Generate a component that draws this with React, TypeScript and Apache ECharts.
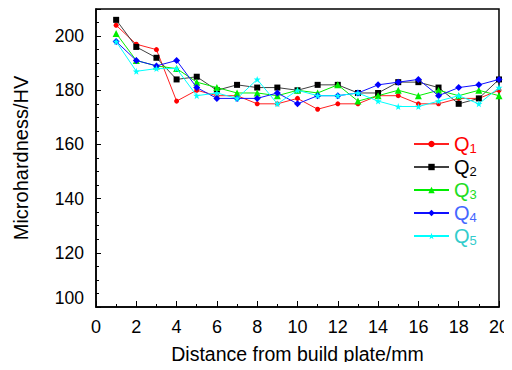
import React, { useEffect, useRef } from "react";
import * as echarts from "echarts";

const distance = [1, 2, 3, 4, 5, 6, 7, 8, 9, 10, 11, 12, 13, 14, 15, 16, 17, 18, 19, 20];
const q1 = [204, 197, 195, 176, 180, 178, 178, 175, 175, 177, 173, 175, 175, 178, 178, 175, 175, 177, 177, 180];
const q2 = [206, 196, 192, 184, 185, 180, 182, 181, 181, 180, 182, 182, 179, 179, 183, 183, 181, 175, 177, 184];
const q3 = [201, 191, 189, 188, 183, 181, 179, 179, 178, 180, 179, 182, 176, 178, 180, 178, 180, 178, 180, 178];
const q4 = [198, 191, 189, 191, 181, 177, 177, 177, 179, 175, 178, 178, 179, 182, 183, 184, 178, 181, 182, 184];
const q5 = [198, 187, 188, 188, 178, 179, 177, 184, 175, 180, 178, 178, 179, 176, 174, 174, 176, 178, 175, 181];

const seriesNames = ["Q1", "Q2", "Q3", "Q4", "Q5"];
const seriesData = [q1, q2, q3, q4, q5];
const lineColors = ["#ff2020", "#404040", "#00ee00", "#1010ff", "#00ffff"];
const markerColors = ["#ff0000", "#000000", "#00ee00", "#0000ff", "#00ffff"];
const labelColors = ["#ff0000", "#000000", "#22dd22", "#4466ff", "#33cccc"];
const STAR =
  "path://M0,-10L2.35,-3.24L9.51,-3.09L3.8,1.24L5.88,8.09L0,4L-5.88,8.09L-3.8,1.24L-9.51,-3.09L-2.35,-3.24Z";
const symbols = ["circle", "rect", "triangle", "diamond", STAR];
const symbolSizes = [5, 6, 7, 7, 7];

const FONT = "Liberation Sans, Arial, sans-serif";

export default function App() {
  const ref = useRef<HTMLDivElement>(null);
  useEffect(() => {
    if (!ref.current) return;
    const chart = echarts.init(ref.current, undefined, { renderer: "svg" });
    const rich: Record<string, any> = {};
    seriesNames.forEach((_, i) => {
      rich["q" + (i + 1)] = {
        color: labelColors[i],
        fontSize: 20,
        lineHeight: 22,
        fontFamily: FONT,
      };
      rich["s" + (i + 1)] = {
        color: labelColors[i],
        fontSize: 13,
        lineHeight: 10,
        verticalAlign: "bottom",
        fontFamily: FONT,
      };
    });
    chart.setOption({
      animation: false,
      backgroundColor: "#ffffff",
      grid: {
        left: 96,
        right: 13,
        top: 9,
        bottom: 63,
        show: true,
        borderColor: "#000",
        borderWidth: 1.5,
        backgroundColor: "transparent",
      },
      legend: {
        orient: "vertical",
        left: 408,
        top: 129,
        itemWidth: 35,
        itemHeight: 8,
        itemGap: 2,
        data: seriesNames,
        formatter: (name: string) => {
          const i = name.slice(1);
          return `{q${i}|Q}{s${i}|${i}}`;
        },
        textStyle: { rich },
      },
      xAxis: {
        type: "value",
        min: 0,
        max: 20,
        interval: 2,
        name: "Distance from build plate/mm",
        nameLocation: "middle",
        nameGap: 37,
        nameTextStyle: { fontSize: 19.5, color: "#000", fontFamily: FONT },
        axisLine: { show: true, lineStyle: { color: "#000", width: 1.5 } },
        axisTick: { show: true, inside: true, length: 6, lineStyle: { color: "#000" } },
        minorTick: { show: true, splitNumber: 2, length: 3, lineStyle: { color: "#000" } },
        splitLine: { show: false },
        axisLabel: { fontSize: 18, color: "#000", fontFamily: FONT, margin: 11 },
      },
      yAxis: {
        type: "value",
        min: 100,
        max: 210,
        interval: 20,
        name: "Microhardness/HV",
        nameLocation: "middle",
        nameGap: 65,
        nameTextStyle: { fontSize: 20, color: "#000", fontFamily: FONT },
        axisLine: { show: true, lineStyle: { color: "#000", width: 1.5 } },
        axisTick: { show: true, inside: true, length: 5, lineStyle: { color: "#000" } },
        minorTick: { show: true, splitNumber: 4, length: 3, lineStyle: { color: "#000" } },
        splitLine: { show: false },
        axisLabel: {
          fontSize: 17.5,
          color: "#000",
          fontFamily: FONT,
          margin: 12,
          formatter: (v: number) => (v > 200 ? "" : v === 100 ? "{low|100}" : String(v)),
          rich: { low: { fontSize: 17.5, fontFamily: FONT, color: "#000", padding: [0, 0, 18, 0] } },
        },
      },
      series: seriesNames.map((name, i) => ({
        name,
        type: "line",
        data: distance.map((d, j) => [d, seriesData[i][j]]),
        symbol: symbols[i],
        symbolSize: symbolSizes[i],
        showAllSymbol: true,
        lineStyle: { color: lineColors[i], width: 1 },
        itemStyle: { color: markerColors[i] },
        z: 2 + i,
      })),
    });
    return () => chart.dispose();
  }, []);
  return <div ref={ref} style={{ width: 512, height: 370, margin: -8 }} />;
}
